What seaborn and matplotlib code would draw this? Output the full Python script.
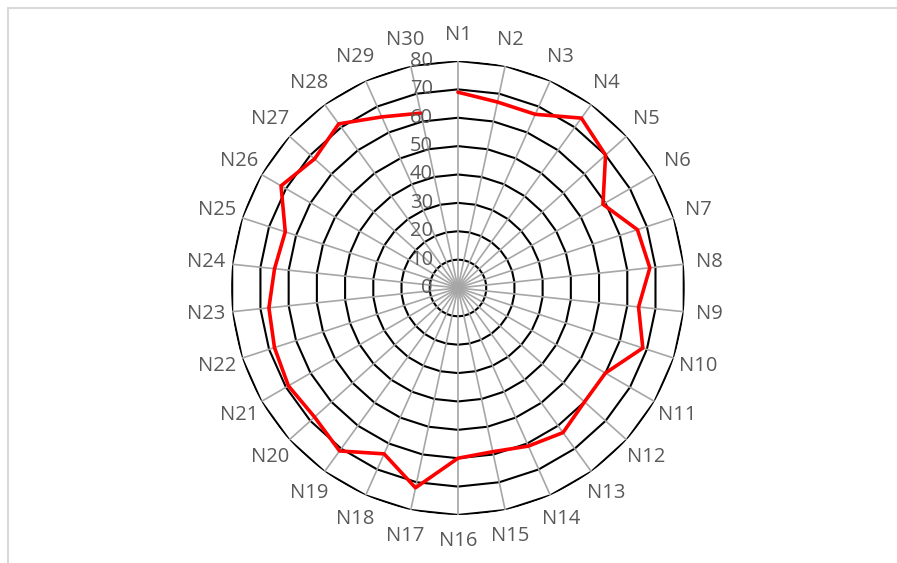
import numpy as np
import pandas as pd
import matplotlib.pyplot as plt
import seaborn as sns
from matplotlib.lines import Line2D

# data
categorias = [f'N{i}' for i in range(1, 31)]
valores = [69, 67, 67, 74, 70, 59, 66.5, 68, 64, 68.5,
           60, 60, 63, 61, 59, 60, 72, 64, 71, 68,
           69, 68, 67, 65, 64, 72, 68, 71.5, 66, 63]
niveles = [10, 20, 30, 40, 50, 60, 70, 80]
etiquetas_radiales = ['0', '10', '20', '30', '40', '50', '60', '70', '80']

sns.set_style('white')
plt.rcParams['font.family'] = ['Open Sans', 'DejaVu Sans']

gris_texto = '#595959'
tam = 14.5
n = len(categorias)
theta = np.linspace(0, 2 * np.pi, n, endpoint=False)
theta_c = np.append(theta, theta[0])

fig = plt.figure(figsize=(8.97, 5.63), dpi=100)
ax = fig.add_axes([0.2575, 0.0853, 0.5061, 0.8064], projection='polar')
ax.set_theta_zero_location('N')
ax.set_theta_direction(-1)

# polygon rings
for lv in niveles:
    ax.plot(theta_c, [lv] * (n + 1), color='black', lw=1.5, zorder=1)

# spokes
for t in theta:
    ax.plot([t, t], [0, niveles[-1]], color='#A6A6A6', lw=1.2, zorder=2)

df = pd.DataFrame({'theta': theta_c, 'valor': valores + [valores[0]]})
sns.lineplot(data=df, x='theta', y='valor', sort=False, color='red',
             lw=2.6, ax=ax, zorder=3)

ax.set_ylim(0, 80)
ax.grid(False)
ax.spines['polar'].set_visible(False)
ax.set_xticks([])
ax.set_yticks([])
ax.set_xlabel('')
ax.set_ylabel('')

# category labels
for t, lab in zip(theta, categorias):
    ax.text(t, 89.2, lab, ha='center', va='center', fontsize=tam,
            color=gris_texto, clip_on=False)

# radial labels along N1 spoke
for lv, lab in zip([0] + niveles, etiquetas_radiales):
    ax.annotate(lab, xy=(0, lv), xytext=(-25, 0), textcoords='offset pixels',
                ha='right', va='center', fontsize=tam, color=gris_texto,
                annotation_clip=False)

# chart frame (top and left edges visible)
fig.add_artist(Line2D([8 / 897, 8 / 897], [0, 1 - 8 / 563], color='#D9D9D9', lw=1.5))
fig.add_artist(Line2D([8 / 897, 1], [1 - 8 / 563, 1 - 8 / 563], color='#D9D9D9', lw=1.5))

fig.savefig('out.png', dpi=100)
